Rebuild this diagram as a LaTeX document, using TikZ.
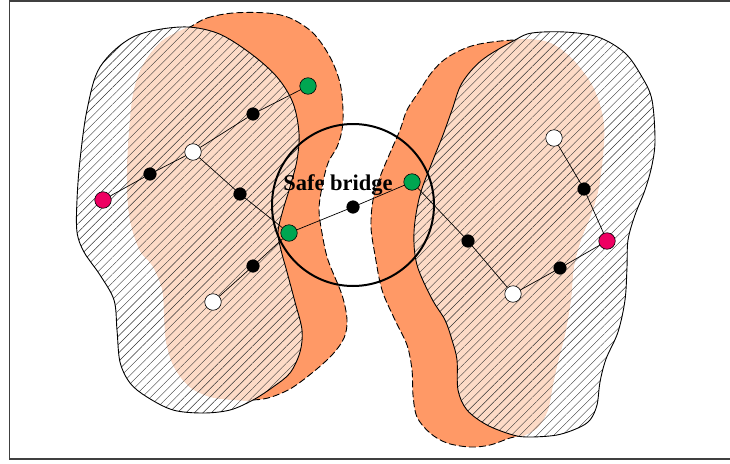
\documentclass[tikz,border=0pt]{standalone}
\usepackage{fontspec}
\setmainfont{Liberation Serif}
\usetikzlibrary{patterns.meta}

\definecolor{blobOrange}{RGB}{255,153,102}
\definecolor{blobPale}{RGB}{253,219,199}
\definecolor{nodeGreen}{RGB}{0,166,81}
\definecolor{nodePink}{RGB}{238,0,98}

\tikzset{
  dashedrim/.style={draw=black, line width=0.9pt, dash pattern=on 7pt off 3pt},
  hatching/.style={pattern={Lines[angle=45,distance=6pt,line width=0.42pt]}, pattern color=black!80},
  solidrim/.style={draw=black, line width=0.9pt},
  dot/.style={circle, draw=black, line width=0.6pt, inner sep=0pt},
  blackdot/.style={dot, fill=black, minimum size=12.5pt},
  whitedot/.style={dot, fill=white, minimum size=16.5pt},
  greendot/.style={dot, fill=nodeGreen, minimum size=16.5pt},
  pinkdot/.style={dot, fill=nodePink, minimum size=16.5pt},
  link/.style={draw=black, line width=0.7pt},
  bridgering/.style={circle, draw=black, line width=2pt, minimum size=162pt, inner sep=0pt},
}

\begin{document}
\begin{tikzpicture}[x=1pt,y=-1pt]
\useasboundingbox (0,0) rectangle (730,463);

% outer frame
\draw[black!75, line width=1.2pt] (9.5,1) rectangle (745,459);

% ---- left pair of regions ----
\path[save path=\regionA] plot[smooth cycle, tension=0.55] coordinates {
  (190,27) (207,18) (233,13) (267,13) (290,18) (313,33) (330,57) (340,83)
  (343,110) (342,130) (337,147) (328,163) (322,187) (319,210) (322,233)
  (328,260) (342,295) (347,320) (344,338) (332,355) (312,373) (290,389)
  (268,398) (250,400) (233,399) (210,396) (190,386) (175,367) (167,342)
  (165,315) (163,289) (153,265) (140,249) (130,215) (128,167) (133,100)
  (143,67) (162,42)};
\path[save path=\regionB] plot[smooth cycle, tension=0.55] coordinates {
  (180,27) (217,33) (250,53) (277,77) (293,103) (299,133) (297,160) (290,187)
  (283,210) (278,232) (281,250) (287,272) (295,302) (302,330) (300,352)
  (290,373) (273,387) (253,400) (230,410) (203,413) (173,410) (147,397)
  (130,383) (120,362) (117,330) (114,300) (100,275) (84,252) (77,232)
  (77,200) (80,160) (87,110) (100,67) (133,37)};

\fill[blobOrange, use path=\regionA];
\path[dashedrim, use path=\regionA];
\begin{scope}
  \clip[use path=\regionB];
  \path[fill=blobPale, draw=blobPale, line width=1.8pt, use path=\regionA];
\end{scope}
\path[hatching, use path=\regionB];
\path[solidrim, use path=\regionB];

% ---- right pair of regions ----
\path[save path=\regionC] plot[smooth cycle, tension=0.55] coordinates {
  (515,40) (548,43) (572,60) (592,87) (602,117) (603,145) (598,187)
  (590,215) (580,240) (573,267) (570,300) (564,335) (557,362) (552,385)
  (547,410) (537,427) (523,435) (510,438) (490,445) (470,447) (447,443)
  (430,433) (417,417) (413,395) (412,370) (407,345) (395,320) (382,290)
  (375,255) (371,227) (373,200) (380,177) (390,153) (400,130) (407,110)
  (420,90) (432,72) (448,57) (475,45)};
\path[save path=\regionD] plot[smooth cycle, tension=0.55] coordinates {
  (515,40) (532,33) (565,32) (598,37) (625,53) (642,77) (652,100) (655,140)
  (652,165) (645,190) (635,215) (628,240) (627,267) (625,300) (618,332)
  (606,359) (600,382) (597,405) (590,420) (578,428) (557,435) (530,437)
  (513,435) (487,425) (467,410) (458,390) (457,360) (452,340) (445,320)
  (432,299) (417,265) (414,232) (420,195) (433,160) (443,135) (452,110)
  (462,83) (482,60)};

\fill[blobOrange, use path=\regionC];
\path[dashedrim, use path=\regionC];
\begin{scope}
  \clip[use path=\regionD];
  \path[fill=blobPale, draw=blobPale, line width=1.8pt, use path=\regionC];
\end{scope}
\path[hatching, use path=\regionD];
\path[solidrim, use path=\regionD];

% ---- safe bridge ring ----
\node[bridgering] (bridge) at (353,205) {};

% ---- graph nodes ----
\node[greendot] (g1) at (308,86) {};
\node[blackdot] (b1) at (253,114) {};
\node[whitedot] (w1) at (193,152) {};
\node[blackdot] (b2) at (150,174) {};
\node[pinkdot]  (p1) at (103,200) {};
\node[blackdot] (b3) at (240,194) {};
\node[greendot] (g2) at (289,233) {};
\node[blackdot] (b4) at (253,266) {};
\node[whitedot] (w2) at (213,302) {};
\node[blackdot] (b5) at (353,207) {};
\node[greendot] (g3) at (412,182) {};
\node[blackdot] (b6) at (468,241) {};
\node[whitedot] (w3) at (513,294) {};
\node[blackdot] (b7) at (560,268) {};
\node[pinkdot]  (p2) at (607,241) {};
\node[blackdot] (b8) at (584,189) {};
\node[whitedot] (w4) at (554,138) {};

% ---- connections ----
\path[link] (p1) -- (b2) (b2) -- (w1) (w1) -- (b1) (b1) -- (g1)
            (w1) -- (b3) (b3) -- (g2)
            (g2) -- (b4) (b4) -- (w2)
            (g2) -- (b5) (b5) -- (g3)
            (g3) -- (b6) (b6) -- (w3) (w3) -- (b7) (b7) -- (p2)
            (p2) -- (b8) (b8) -- (w4);

% ---- label ----
\node[anchor=base, inner sep=0pt, font=\fontsize{22.5}{26}\selectfont\bfseries] (label) at (338,190) {Safe bridge};

\end{tikzpicture}
\end{document}
